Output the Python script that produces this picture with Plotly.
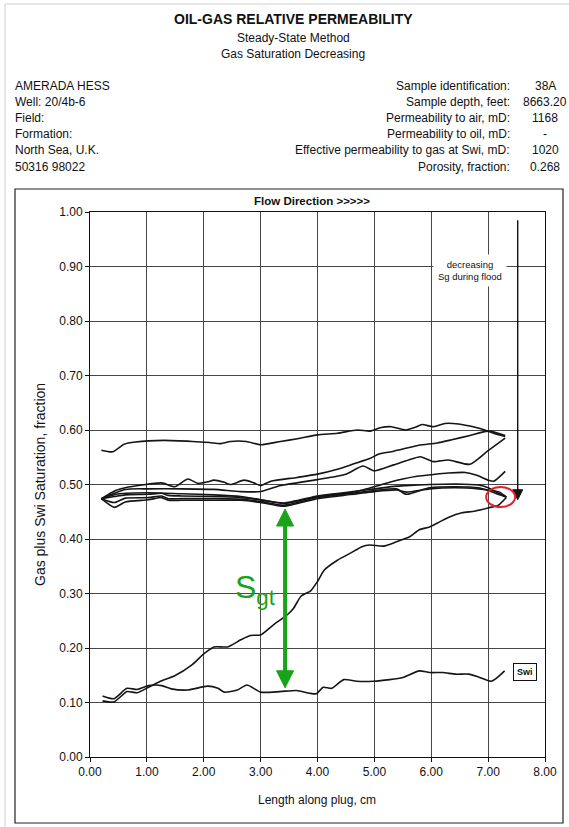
import plotly.graph_objects as go

# ---------------------------------------------------------------------------
# Saturation profiles along the plug: length (cm) vs gas + Swi saturation
# ---------------------------------------------------------------------------
len_a = [0.2, 0.4, 0.6, 0.8, 1.3, 1.8, 2.1, 2.3, 2.47, 2.75, 3.0, 3.35, 3.65, 4.0,
         4.35, 4.7, 4.93, 5.1, 5.3, 5.55, 5.72, 5.84, 6.04, 6.24, 6.48, 6.77, 6.94,
         7.12, 7.3]
sat_a = [0.563, 0.560, 0.574, 0.578, 0.581, 0.579, 0.577, 0.575, 0.579, 0.579, 0.573,
         0.579, 0.584, 0.591, 0.594, 0.600, 0.598, 0.604, 0.606, 0.600, 0.605, 0.610,
         0.606, 0.612, 0.611, 0.605, 0.600, 0.593, 0.588]

len_b = [0.2, 0.45, 0.62, 0.91, 1.26, 1.49, 1.72, 1.90, 2.07, 2.18, 2.36, 2.47, 2.71,
         2.88, 3.0, 3.18, 3.64, 4.0, 4.35, 4.64, 4.93, 5.08, 5.34, 5.78, 6.1, 6.36,
         6.68, 7.0, 7.3]
sat_b = [0.474, 0.489, 0.494, 0.499, 0.503, 0.496, 0.510, 0.502, 0.505, 0.508, 0.504,
         0.500, 0.508, 0.503, 0.498, 0.506, 0.513, 0.519, 0.528, 0.538, 0.548, 0.556,
         0.561, 0.572, 0.576, 0.582, 0.590, 0.598, 0.590]

len_c = [0.2, 0.62, 1.03, 1.61, 2.18, 2.65, 3.0, 3.35, 4.0, 4.5, 4.8, 5.0, 5.34, 5.6,
         5.81, 6.04, 6.3, 6.68, 7.0, 7.3]
sat_c = [0.474, 0.491, 0.492, 0.492, 0.491, 0.487, 0.487, 0.498, 0.509, 0.519, 0.534,
         0.525, 0.536, 0.545, 0.551, 0.542, 0.545, 0.537, 0.562, 0.585]

len_d = [0.2, 0.51, 1.03, 1.61, 2.18, 2.65, 3.0, 3.41, 4.0, 4.5, 4.8, 5.0, 5.3, 5.5,
         5.75, 6.0, 6.3, 6.6, 6.8, 7.0, 7.1, 7.3]
sat_d = [0.474, 0.483, 0.485, 0.483, 0.481, 0.478, 0.472, 0.465, 0.478, 0.484, 0.490,
         0.496, 0.505, 0.510, 0.515, 0.518, 0.521, 0.522, 0.517, 0.508, 0.506, 0.524]

len_e = [0.2, 0.43, 0.62, 1.03, 1.26, 1.38, 1.61, 2.18, 2.65, 3.0, 3.41, 4.0, 4.46,
         5.0, 5.39, 5.56, 5.97, 6.43, 6.83, 7.0, 7.2, 7.32]
sat_e1 = [0.474, 0.478, 0.481, 0.482, 0.484, 0.480, 0.479, 0.478, 0.476, 0.472, 0.466,
          0.479, 0.485, 0.492, 0.497, 0.498, 0.500, 0.501, 0.499, 0.494, 0.483, 0.477]
sat_e2 = [0.474, 0.467, 0.475, 0.476, 0.479, 0.474, 0.474, 0.474, 0.473, 0.469, 0.462,
          0.476, 0.482, 0.489, 0.492, 0.482, 0.494, 0.496, 0.494, 0.489, 0.481, 0.477]
sat_e3 = [0.474, 0.458, 0.468, 0.472, 0.476, 0.471, 0.471, 0.471, 0.471, 0.467, 0.460,
          0.474, 0.480, 0.487, 0.490, 0.486, 0.492, 0.494, 0.492, 0.490, 0.486, 0.477]

len_g = [0.22, 0.42, 0.65, 0.83, 1.03, 1.26, 1.49, 1.78, 2.01, 2.18, 2.42, 2.65, 2.82,
         3.0, 3.23, 3.47, 3.58, 3.71, 3.88, 4.0, 4.12, 4.35, 4.58, 4.78, 4.92, 5.16,
         5.39, 5.62, 5.79, 5.97, 6.14, 6.31, 6.54, 6.76, 7.0, 7.18, 7.32]
sat_g = [0.103, 0.101, 0.120, 0.118, 0.128, 0.140, 0.149, 0.168, 0.190, 0.202, 0.202,
         0.215, 0.223, 0.224, 0.243, 0.261, 0.273, 0.295, 0.305, 0.322, 0.343, 0.361,
         0.374, 0.386, 0.389, 0.387, 0.395, 0.404, 0.417, 0.422, 0.431, 0.440, 0.448,
         0.451, 0.457, 0.462, 0.476]

len_swi = [0.22, 0.42, 0.65, 0.83, 1.03, 1.26, 1.43, 1.72, 2.07, 2.25, 2.36, 2.59,
           2.76, 3.0, 3.34, 3.63, 3.86, 3.98, 4.1, 4.25, 4.46, 4.69, 4.98, 5.27, 5.5,
           5.79, 5.97, 6.2, 6.43, 6.66, 6.83, 7.06, 7.29]
sat_swi = [0.112, 0.107, 0.126, 0.124, 0.131, 0.131, 0.125, 0.123, 0.130, 0.126, 0.119,
           0.123, 0.132, 0.119, 0.120, 0.122, 0.117, 0.116, 0.128, 0.126, 0.142, 0.139,
           0.139, 0.142, 0.146, 0.158, 0.155, 0.155, 0.152, 0.152, 0.147, 0.139, 0.158]

# Axis ticks
x_ticks = [0, 1, 2, 3, 4, 5, 6, 7, 8]
y_ticks = [0.0, 0.1, 0.2, 0.3, 0.4, 0.5, 0.6, 0.7, 0.8, 0.9, 1.0]

# Header text
title_lines = ["OIL-GAS RELATIVE PERMEABILITY", "Steady-State Method",
               "Gas Saturation Decreasing"]
client_lines = ["AMERADA HESS", "Well: 20/4b-6", "Field:", "Formation:",
                "North Sea, U.K.", "50316 98022"]
sample_labels = ["Sample identification:", "Sample depth, feet:",
                 "Permeability to air, mD:", "Permeability to oil, mD:",
                 "Effective permeability to gas at Swi, mD:", "Porosity, fraction:"]
sample_values = ["38A", "8663.20", "1168", "-", "1020", "0.268"]

# ---------------------------------------------------------------------------
W, H = 569, 827
PL, PR, PT, PB = 90, 545, 212, 757   # plot-area edges in page pixels
FONT = "Liberation Sans, Arial, Helvetica, sans-serif"
INK = "#111111"
GREEN = "#18a318"


def px(x):
    return (x - PL) / (PR - PL)


def py(y):
    return (PB - y) / (PB - PT)


fig = go.Figure()

profiles = [(len_a, sat_a), (len_b, sat_b), (len_c, sat_c), (len_d, sat_d),
            (len_e, sat_e1), (len_e, sat_e2), (len_e, sat_e3),
            (len_g, sat_g), (len_swi, sat_swi)]
for xs, ys in profiles:
    fig.add_trace(go.Scatter(x=xs, y=ys, mode="lines", hoverinfo="skip",
                             line=dict(color="#151515", width=1.6,
                                       shape="spline", smoothing=0.6)))

axis_common = dict(showgrid=True, gridcolor="#474747", gridwidth=1,
                   showline=True, linecolor="#111", linewidth=1, mirror=True,
                   ticks="outside", ticklen=4, tickcolor="#111", zeroline=False,
                   tickfont=dict(family=FONT, size=12, color=INK),
                   fixedrange=True)

fig.update_layout(
    width=W, height=H,
    margin=dict(l=PL, r=W - PR, t=PT, b=H - PB, pad=0),
    paper_bgcolor="white", plot_bgcolor="white",
    showlegend=False,
    font=dict(family=FONT, size=12, color=INK),
    xaxis=dict(range=[0, 8], tickvals=x_ticks,
               ticktext=[f"{v:.2f}" for v in x_ticks], **axis_common),
    yaxis=dict(range=[0, 1], tickvals=y_ticks,
               ticktext=[f"{v:.2f}" for v in y_ticks], **axis_common),
)

ann = []


def text(x, y, s, size=12, bold=False, xa="center", ya="middle", color=INK, **kw):
    ann.append(dict(x=px(x), y=py(y), xref="paper", yref="paper", text=s,
                    showarrow=False, xanchor=xa, yanchor=ya,
                    font=dict(family=FONT, size=size, color=color,
                              weight="bold" if bold else "normal"), **kw))


# Header block
text(293, 19, title_lines[0], size=14, bold=True)
text(293, 38, title_lines[1], size=12)
text(293, 54, title_lines[2], size=12)
rows = [86, 102, 118, 134, 150, 167]
for r, s in zip(rows, client_lines):
    text(13, r, s, xa="left")
for r, s in zip(rows, sample_labels):
    text(512, r, s, xa="right")
for r, s in zip(rows, sample_values):
    text(545, r, s)

# Chart titles
text(312, 201, "Flow Direction &gt;&gt;&gt;&gt;&gt;", size=11.5, bold=True)
text(317, 800, "Length along plug, cm")
ann.append(dict(x=px(40), y=py(485), xref="paper", yref="paper",
                text="Gas plus Swi Saturation, fraction", textangle=-90,
                showarrow=False, xanchor="center", yanchor="middle",
                font=dict(family=FONT, size=14, color=INK)))

# In-plot notes
ann.append(dict(x=6.68, y=0.893, xref="x", yref="y",
                text="decreasing<br>Sg during flood", showarrow=False,
                bgcolor="white", borderpad=4,
                font=dict(family=FONT, size=9.5, color=INK)))
ann.append(dict(x=7.65, y=0.156, xref="x", yref="y", text="Swi",
                showarrow=False, bgcolor="white", bordercolor="#111",
                borderwidth=1, borderpad=3,
                font=dict(family=FONT, size=9, color=INK, weight="bold")))
ann.append(dict(x=2.52, y=0.308, xref="x", yref="y", text="S<sub>gt</sub>",
                showarrow=False, xanchor="left", yanchor="middle",
                font=dict(family=FONT, size=32, color=GREEN)))
fig.update_layout(annotations=ann)

# Shapes: page border, chart frame, arrows and highlight ring
XU = (PR - PL) / 8.0    # pixels per cm
YU = (PB - PT) / 1.0    # pixels per unit saturation
shapes = [
    dict(type="line", xref="paper", yref="paper", x0=px(5), x1=px(5),
         y0=py(4), y1=py(827), line=dict(color="#cfcfcf", width=1)),
    dict(type="line", xref="paper", yref="paper", x0=px(5), x1=px(569),
         y0=py(4), y1=py(4), line=dict(color="#cfcfcf", width=1)),
    dict(type="rect", xref="paper", yref="paper", x0=px(15), x1=px(563),
         y0=py(823), y1=py(189), line=dict(color="#222", width=1.2)),
]

# flood-direction arrow
ax, a_top, a_tip = 7.52, 0.985, 0.472
shapes.append(dict(type="line", xref="x", yref="y", x0=ax, x1=ax, y0=a_top,
                   y1=a_tip + 8 / YU, line=dict(color="#111", width=1.4)))
shapes.append(dict(type="path", xref="x", yref="y",
                   path=f"M {ax},{a_tip} L {ax - 5 / XU},{a_tip + 10 / YU} "
                        f"L {ax + 5 / XU},{a_tip + 10 / YU} Z",
                   fillcolor="#111", line=dict(color="#111", width=1)))

# trapped-gas double arrow
gx, g_top, g_bot = 3.43, 0.455, 0.127
hw, hh = 8.5 / XU, 17 / YU
shapes.append(dict(type="line", xref="x", yref="y", x0=gx, x1=gx,
                   y0=g_bot + hh * 0.8, y1=g_top - hh * 0.8,
                   line=dict(color=GREEN, width=4)))
shapes.append(dict(type="path", xref="x", yref="y",
                   path=f"M {gx},{g_top} L {gx - hw},{g_top - hh} L {gx + hw},{g_top - hh} Z",
                   fillcolor=GREEN, line=dict(color=GREEN, width=1)))
shapes.append(dict(type="path", xref="x", yref="y",
                   path=f"M {gx},{g_bot} L {gx - hw},{g_bot + hh} L {gx + hw},{g_bot + hh} Z",
                   fillcolor=GREEN, line=dict(color=GREEN, width=1)))

# ring around the end-point
cx, cy = 7.22, 0.477
shapes.append(dict(type="circle", xref="x", yref="y",
                   x0=cx - 14.5 / XU, x1=cx + 14.5 / XU,
                   y0=cy - 10 / YU, y1=cy + 10 / YU,
                   line=dict(color="#e8202c", width=2)))

fig.update_layout(shapes=shapes)

fig.write_html("out.html", config={"displayModeBar": False, "staticPlot": True})
